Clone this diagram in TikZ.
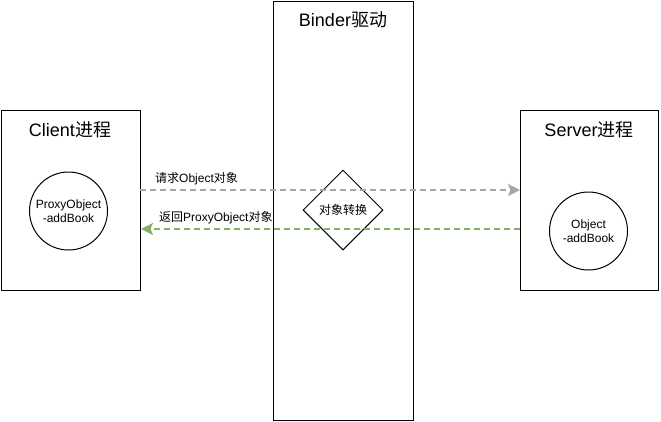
\documentclass[tikz,border=0pt]{standalone}
\usepackage{fontspec}
\setmainfont{Liberation Sans}
\newfontfamily\cjk{Noto Sans CJK SC}
\usetikzlibrary{shapes.geometric,arrows.meta}
\definecolor{arrgray}{HTML}{A6A6A6}
\definecolor{arrgreen}{HTML}{82B366}
\tikzset{
  procbox/.style={draw=black, line width=1pt},
  titletext/.style={font=\fontsize{18}{21}\selectfont, inner sep=0pt},
  smalltext/.style={font=\fontsize{12}{14}\selectfont, inner sep=0pt},
  objcircle/.style={draw=black, line width=1pt, circle, minimum size=78pt, inner sep=0pt, align=center, font=\fontsize{12}{13.5}\selectfont},
  convdiamond/.style={draw=black, line width=1pt, diamond, minimum width=80pt, minimum height=80pt, inner sep=0pt, font=\fontsize{12}{14}\selectfont},
  reqarrow/.style={draw=arrgray, line width=2pt, dash pattern=on 6pt off 4pt, -{Stealth[length=12pt,width=12pt,inset=2.5pt]}},
  retarrow/.style={draw=arrgreen, line width=2pt, dash pattern=on 6pt off 4pt, -{Stealth[length=12pt,width=12pt,inset=2.5pt]}}
}
\begin{document}
\begin{tikzpicture}[x=1pt,y=-1pt]
\useasboundingbox (0,0) rectangle (661,421);
% boxes
\node[procbox, minimum width=139pt, minimum height=180pt, inner sep=0pt] (client) at (70.5,200) {};
\node[procbox, minimum width=140pt, minimum height=419pt, inner sep=0pt] (binder) at (343,210.5) {};
\node[procbox, minimum width=138pt, minimum height=180pt, inner sep=0pt] (server) at (589,200) {};
% titles
\node[titletext] (clienttitle) at (70,130) {Client{\cjk 进程}};
\node[titletext] (binderttitle) at (343,20) {Binder{\cjk 驱动}};
\node[titletext] (servertitle) at (589,130) {Server{\cjk 进程}};
% objects
\node[objcircle] (proxy) at (68.5,211) {ProxyObject\\-addBook};
\node[objcircle] (obj) at (588.5,231) {Object\\-addBook};
\node[convdiamond] (conv) at (343,210) {\cjk 对象转换};
% connector ends
\coordinate (reqS) at (140,190);
\coordinate (reqE) at (520,190);
\coordinate (retS) at (520,229);
\coordinate (retE) at (141,229);
\draw[reqarrow] (reqS) -- (reqE);
\draw[retarrow] (retS) -- (retE);
% labels
\node[smalltext, anchor=west] (reqlabel) at (155,179) {{\cjk 请求}Object{\cjk 对象}};
\node[smalltext, anchor=west] (retlabel) at (159,218) {{\cjk 返回}ProxyObject{\cjk 对象}};
\end{tikzpicture}
\end{document}
